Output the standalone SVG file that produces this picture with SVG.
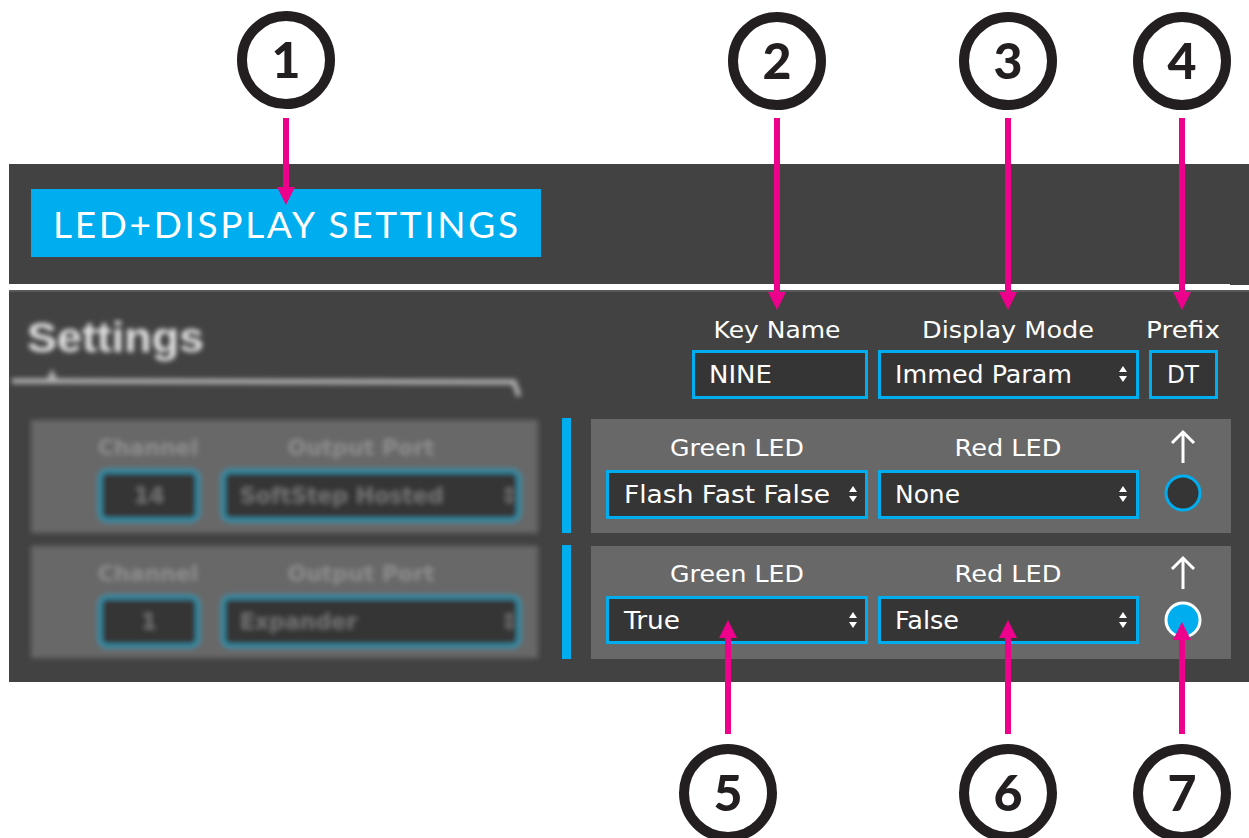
<svg xmlns="http://www.w3.org/2000/svg" width="1249" height="838" viewBox="0 0 1249 838">
<style>
.bg{fill:#424242}
.sub{fill:#686868}
.field{fill:#353535;stroke:#00AEEF;stroke-width:3}
.lbl{font-family:"DejaVu Sans",sans-serif;font-size:23px;fill:#ffffff;text-anchor:middle}
.val{font-family:"DejaVu Sans",sans-serif;font-size:24px;fill:#ffffff}
.num{font-family:"Lato","Liberation Sans",sans-serif;font-weight:900;font-size:50px;fill:#231f20;text-anchor:middle}
.ring{fill:#ffffff;stroke:#231f20;stroke-width:10}
.conn{stroke:#EC008C;stroke-width:6;fill:none}
.up{stroke:#ffffff;stroke-width:3;fill:none}
.bsub{fill:#676767}
.bfield{fill:#363636;stroke:#2f8ba3;stroke-width:5}
.blbl{font-family:"DejaVu Sans",sans-serif;font-weight:bold;font-size:22px;fill:#8c8c8c;text-anchor:middle}
.bval{font-family:"DejaVu Sans",sans-serif;font-weight:bold;font-size:22px;fill:#6e6e6e}
</style>
<defs>
<marker id="ah" markerUnits="userSpaceOnUse" viewBox="0 0 18 18" refX="2" refY="9" markerWidth="18" markerHeight="18" orient="auto">
<path d="M0,0 L18,9 L0,18 z" fill="#EC008C"/>
</marker>
<g id="spin"><path d="M-4,-2 L4,-2 L0,-8 z M-4,2 L4,2 L0,8 z" fill="#ffffff"/></g>
<filter id="blur" x="-5%" y="-5%" width="110%" height="110%"><feGaussianBlur stdDeviation="2.6"/></filter>
</defs>
<rect width="1249" height="838" fill="#ffffff"/>

<g id="panel">
<rect class="bg" x="9" y="164" width="1240" height="121"/>
<rect x="9" y="284" width="1221" height="6" fill="#ffffff"/>
<rect class="bg" x="9" y="290" width="1240" height="392"/>
<rect x="9" y="290" width="1240" height="2" fill="#5a5a5a"/>
</g>

<g id="title">
<rect x="31" y="189" width="510" height="68" fill="#00AEEF"/>
<text x="53" y="238" font-family="Lato, 'Liberation Sans', sans-serif" font-size="37" fill="#ffffff" textLength="465" lengthAdjust="spacing">LED+DISPLAY SETTINGS</text>
</g>

<g id="blurred-settings" filter="url(#blur)">
<text x="27" y="352" font-family="'Liberation Sans',sans-serif" font-weight="bold" font-size="42" fill="#e2e2e2" textLength="177" lengthAdjust="spacingAndGlyphs">Settings</text>
<path d="M12,381 L514,382 L519,396" stroke="#b0b0b0" stroke-width="5" fill="none"/>
<path d="M46,381 L52,369 L58,381 z" fill="#b0b0b0"/>
<rect class="bsub" x="31" y="420" width="507" height="113"/>
<rect class="bsub" x="31" y="546" width="507" height="112"/>
<text class="blbl" x="148" y="455">Channel</text>
<text class="blbl" x="361" y="455">Output Port</text>
<rect class="bfield" x="100" y="471" width="98" height="49" rx="7"/>
<rect class="bfield" x="223" y="471" width="296" height="49" rx="7"/>
<text class="bval" x="149" y="503" text-anchor="middle">14</text>
<text class="bval" x="240" y="503">SoftStep Hosted</text>
<text class="bval" x="500" y="503">⇕</text>
<text class="blbl" x="148" y="581">Channel</text>
<text class="blbl" x="361" y="581">Output Port</text>
<rect class="bfield" x="100" y="597" width="98" height="49" rx="7"/>
<rect class="bfield" x="223" y="597" width="296" height="49" rx="7"/>
<text class="bval" x="149" y="629" text-anchor="middle">1</text>
<text class="bval" x="240" y="629">Expander</text>
<text class="bval" x="500" y="629">⇕</text>
</g>

<g id="header-fields">
<text class="lbl" x="777" y="338" textLength="127" lengthAdjust="spacingAndGlyphs">Key Name</text>
<text class="lbl" x="1008" y="338" textLength="172" lengthAdjust="spacingAndGlyphs">Display Mode</text>
<text class="lbl" x="1183" y="338" textLength="74" lengthAdjust="spacingAndGlyphs">Prefix</text>
<rect class="field" x="693.5" y="351.5" width="173" height="46"/>
<text class="val" x="709" y="383" textLength="63" lengthAdjust="spacingAndGlyphs">NINE</text>
<rect class="field" x="879.5" y="351.5" width="258" height="46"/>
<text class="val" x="895" y="383" textLength="177" lengthAdjust="spacingAndGlyphs">Immed Param</text>
<use href="#spin" x="1123" y="374"/>
<rect class="field" x="1150.5" y="351.5" width="66" height="46"/>
<text class="val" x="1183" y="383" text-anchor="middle" textLength="32" lengthAdjust="spacingAndGlyphs">DT</text>
</g>

<g id="bars">
<rect x="562" y="418" width="9" height="115" fill="#00AEEF"/>
<rect x="562" y="545" width="9" height="114" fill="#00AEEF"/>
</g>

<g id="row1">
<rect class="sub" x="591" y="419" width="640" height="114"/>
<text class="lbl" x="737" y="456" textLength="134" lengthAdjust="spacingAndGlyphs">Green LED</text>
<text class="lbl" x="1008" y="456" textLength="107" lengthAdjust="spacingAndGlyphs">Red LED</text>
<rect class="field" x="607.5" y="471.5" width="259" height="46"/>
<text class="val" x="624" y="503" textLength="206" lengthAdjust="spacingAndGlyphs">Flash Fast False</text>
<use href="#spin" x="853" y="494"/>
<rect class="field" x="879.5" y="471.5" width="258" height="46"/>
<text class="val" x="895" y="503" textLength="65" lengthAdjust="spacingAndGlyphs">None</text>
<use href="#spin" x="1123" y="494"/>
<path class="up" d="M1183,463 L1183,432 M1172,443 L1183,432 L1194,443"/>
<circle cx="1183" cy="493" r="17" fill="#353535" stroke="#00AEEF" stroke-width="3"/>
</g>

<g id="row2">
<rect class="sub" x="591" y="546" width="640" height="113"/>
<text class="lbl" x="737" y="582" textLength="134" lengthAdjust="spacingAndGlyphs">Green LED</text>
<text class="lbl" x="1008" y="582" textLength="107" lengthAdjust="spacingAndGlyphs">Red LED</text>
<rect class="field" x="607.5" y="597.5" width="259" height="45"/>
<text class="val" x="624" y="629" textLength="56" lengthAdjust="spacingAndGlyphs">True</text>
<use href="#spin" x="853" y="620"/>
<rect class="field" x="879.5" y="597.5" width="258" height="45"/>
<text class="val" x="895" y="629" textLength="64" lengthAdjust="spacingAndGlyphs">False</text>
<use href="#spin" x="1123" y="620"/>
<path class="up" d="M1183,589 L1183,558 M1172,569 L1183,558 L1194,569"/>
<circle cx="1183" cy="620" r="17" fill="#00AEEF" stroke="#ffffff" stroke-width="3"/>
</g>

<g id="connectors">
<line class="conn" x1="286" y1="118" x2="286" y2="189" marker-end="url(#ah)"/>
<line class="conn" x1="777" y1="118" x2="777" y2="294" marker-end="url(#ah)"/>
<line class="conn" x1="1008" y1="118" x2="1008" y2="294" marker-end="url(#ah)"/>
<line class="conn" x1="1182" y1="118" x2="1182" y2="294" marker-end="url(#ah)"/>
<line class="conn" x1="728" y1="734" x2="728" y2="636" marker-end="url(#ah)"/>
<line class="conn" x1="1008" y1="734" x2="1008" y2="636" marker-end="url(#ah)"/>
<line class="conn" x1="1182" y1="734" x2="1182" y2="638" marker-end="url(#ah)"/>
</g>

<g id="callout-1"><circle class="ring" cx="286" cy="60" r="44"/><text class="num" x="286" y="78">1</text></g>
<g id="callout-2"><circle class="ring" cx="777" cy="61" r="44"/><text class="num" x="777" y="79">2</text></g>
<g id="callout-3"><circle class="ring" cx="1008" cy="61" r="44"/><text class="num" x="1008" y="79">3</text></g>
<g id="callout-4"><circle class="ring" cx="1182" cy="61" r="44"/><text class="num" x="1182" y="79">4</text></g>
<g id="callout-5"><circle class="ring" cx="728" cy="793" r="44"/><text class="num" x="728" y="811">5</text></g>
<g id="callout-6"><circle class="ring" cx="1008" cy="793" r="44"/><text class="num" x="1008" y="811">6</text></g>
<g id="callout-7"><circle class="ring" cx="1182" cy="793" r="44"/><text class="num" x="1182" y="811">7</text></g>
</svg>
